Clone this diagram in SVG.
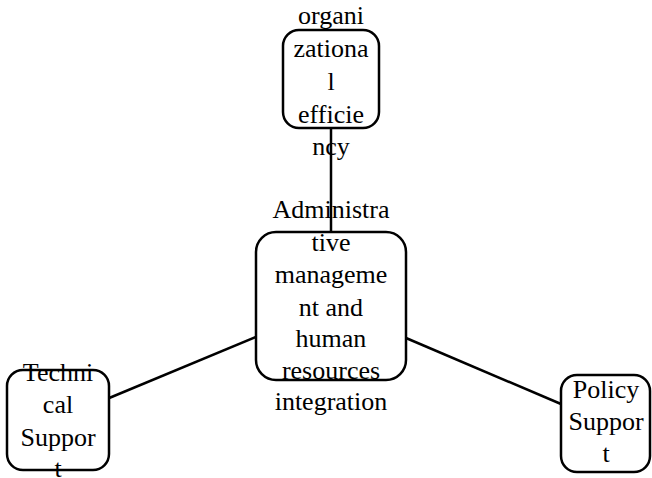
<svg xmlns="http://www.w3.org/2000/svg" width="652" height="478" viewBox="0 0 652 478">
<style>
.box{fill:#fff;stroke:#000;stroke-width:2.5}
.edge{stroke:#000;stroke-width:2.5;fill:none}
.t{font-family:'Liberation Serif','Tinos','Times New Roman','Nimbus Roman','DejaVu Serif',serif;font-size:26px;fill:#000;text-anchor:middle}
</style>
<rect width="652" height="478" fill="#fff"/>
<g id="connectors">
<line class="edge" x1="331" y1="128" x2="331" y2="232"/>
<line class="edge" x1="108" y1="398.5" x2="256" y2="337"/>
<line class="edge" x1="561" y1="404" x2="406" y2="338"/>
</g>
<g id="node-org">
<rect class="box" x="283" y="30" width="96" height="98" rx="16"/>
<text class="t" x="331" y="24">organi</text>
<text class="t" x="331" y="57">zationa</text>
<text class="t" x="331" y="90">l</text>
<text class="t" x="331" y="123">efficie</text>
<text class="t" x="331" y="155">ncy</text>
</g>
<g id="node-admin">
<rect class="box" x="256" y="232" width="150" height="148" rx="20"/>
<text class="t" x="331" y="218">Administra</text>
<text class="t" x="331" y="251">tive</text>
<text class="t" x="331" y="283">manageme</text>
<text class="t" x="331" y="316">nt and</text>
<text class="t" x="331" y="347">human</text>
<text class="t" x="331" y="379">resources</text>
<text class="t" x="331" y="410">integration</text>
</g>
<g id="node-tech">
<rect class="box" x="7" y="370" width="102" height="100" rx="16"/>
<text class="t" x="58" y="381">Techni</text>
<text class="t" x="58" y="413">cal</text>
<text class="t" x="58" y="446">Suppor</text>
<text class="t" x="58" y="477">t</text>
</g>
<g id="node-policy">
<rect class="box" x="561" y="375" width="89" height="97" rx="16"/>
<text class="t" x="606" y="398">Policy</text>
<text class="t" x="606" y="430">Suppor</text>
<text class="t" x="606" y="462">t</text>
</g>
</svg>
